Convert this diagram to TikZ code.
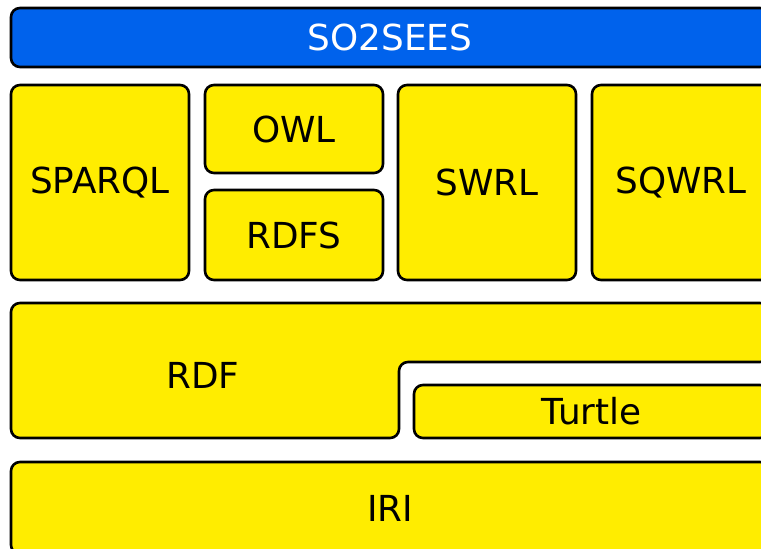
\documentclass[tikz,border=0pt]{standalone}
\usepackage{fontspec}
\setmainfont{DejaVu Sans}
\definecolor{ylw}{HTML}{FFED00}
\definecolor{blu}{HTML}{0062EC}
\begin{document}
\begin{tikzpicture}[x=1pt,y=-1pt,
  layer/.style={draw=black, line width=2.6pt, rounded corners=9pt, fill=ylw, inner sep=0pt, font=\fontsize{35.8}{40}\selectfont},
  lbl/.style={font=\fontsize{35.8}{40}\selectfont, text=black, inner sep=0pt}]
\useasboundingbox (0,0) rectangle (761,549);
\clip (0,0) rectangle (761,549);
\node[layer, fill=blu, text=white, minimum width=758pt, minimum height=59pt] (so2sees) at (390,37.5) {SO2SEES};
\node[layer, minimum width=178pt, minimum height=195pt] (sparql) at (100,182.5) {SPARQL};
\node[layer, minimum width=178pt, minimum height=88pt] (owl) at (294,129) {OWL};
\node[layer, minimum width=178pt, minimum height=90pt] (rdfs) at (294,235) {RDFS};
\node[layer, minimum width=178pt, minimum height=195pt] (swrl) at (487,182.5) {SWRL};
\node[layer, minimum width=178pt, minimum height=195pt] (sqwrl) at (681,182.5) {SQWRL};
\draw[layer] (11,303) -- (769,303) -- (769,362) -- (399,362) -- (399,438) -- (11,438) -- cycle;
\node[lbl] (rdf) at (203,375) {RDF};
\node[layer, minimum width=355pt, minimum height=53pt] (turtle) at (591.5,411.5) {Turtle};
\node[layer, minimum width=758pt, minimum height=92pt] (iri) at (390,508) {IRI};
\end{tikzpicture}
\end{document}
